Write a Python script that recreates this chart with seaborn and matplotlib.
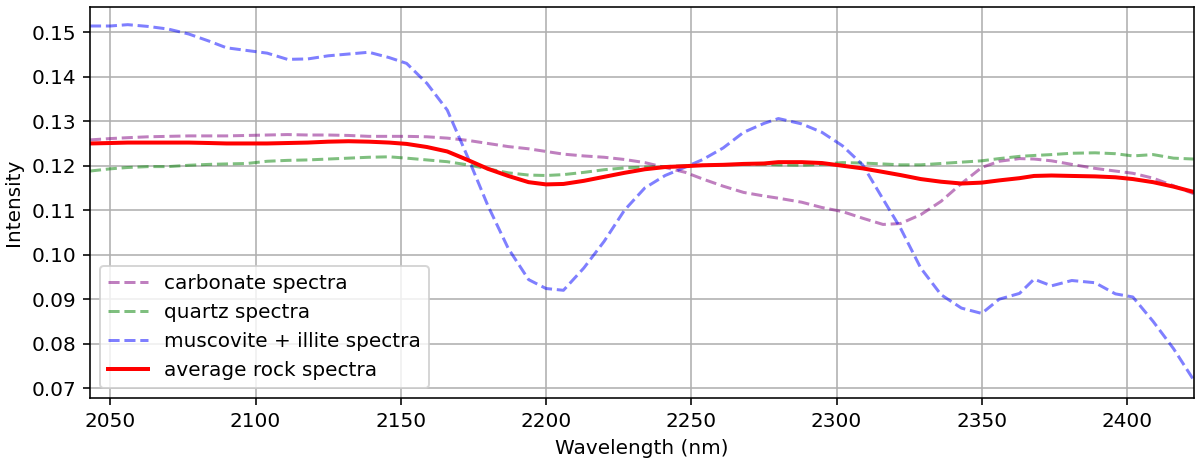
import matplotlib
matplotlib.use("Agg")
import matplotlib.pyplot as plt
import seaborn as sns
import numpy as np

wavelength = [2043, 2050, 2056, 2063, 2070, 2077, 2084, 2090, 2097, 2104, 2111, 2118, 2125, 2132,
              2139, 2146, 2152, 2159, 2166, 2173, 2180, 2187, 2194, 2200, 2206, 2213, 2220, 2227,
              2234, 2241, 2248, 2254, 2261, 2268, 2275, 2280, 2288, 2295, 2302, 2309, 2316, 2322,
              2329, 2336, 2343, 2350, 2356, 2363, 2368, 2374, 2381, 2389, 2396, 2402, 2409, 2416, 2423]

carbonate = [0.1258, 0.1261, 0.1263, 0.1265, 0.1266, 0.1267, 0.1267, 0.1267, 0.1268, 0.1269, 0.1270,
             0.1269, 0.1269, 0.1268, 0.1266, 0.1266, 0.1266, 0.1265, 0.1262, 0.1257, 0.1250, 0.1243,
             0.1238, 0.1232, 0.1226, 0.1222, 0.1219, 0.1214, 0.1207, 0.1196, 0.1185, 0.1170, 0.1154,
             0.1140, 0.1132, 0.1127, 0.1118, 0.1106, 0.1097, 0.1082, 0.1068, 0.1070, 0.1090, 0.1120,
             0.1160, 0.1196, 0.1210, 0.1216, 0.1215, 0.1211, 0.1203, 0.1194, 0.1188, 0.1183, 0.1172,
             0.1155, 0.1137]

quartz = [0.1188, 0.1193, 0.1196, 0.1198, 0.1198, 0.1201, 0.1203, 0.1204, 0.1205, 0.1210, 0.1212,
          0.1213, 0.1215, 0.1217, 0.1219, 0.1220, 0.1217, 0.1213, 0.1209, 0.1202, 0.1193, 0.1184,
          0.1179, 0.1178, 0.1180, 0.1185, 0.1191, 0.1195, 0.1197, 0.1198, 0.1200, 0.1201, 0.1202,
          0.1203, 0.1203, 0.1202, 0.1201, 0.1203, 0.1207, 0.1206, 0.1204, 0.1202, 0.1202, 0.1205,
          0.1208, 0.1211, 0.1216, 0.1221, 0.1223, 0.1225, 0.1228, 0.1229, 0.1227, 0.1222, 0.1225,
          0.1217, 0.1215]

muscovite_illite = [0.1514, 0.1514, 0.1517, 0.1513, 0.1507, 0.1496, 0.1480, 0.1465, 0.1459, 0.1453,
                    0.1439, 0.1440, 0.1447, 0.1451, 0.1455, 0.1443, 0.1430, 0.1385, 0.1325, 0.1220,
                    0.1110, 0.1014, 0.0944, 0.0924, 0.0920, 0.0970, 0.1030, 0.1100, 0.1150, 0.1178,
                    0.1197, 0.1214, 0.1240, 0.1275, 0.1295, 0.1306, 0.1294, 0.1275, 0.1245, 0.1202,
                    0.1125, 0.1060, 0.0970, 0.0910, 0.0880, 0.0868, 0.0900, 0.0913, 0.0945, 0.0930,
                    0.0942, 0.0937, 0.0912, 0.0905, 0.0850, 0.0789, 0.0718]

average_rock = [0.1250, 0.1251, 0.1252, 0.1252, 0.1252, 0.1252, 0.1251, 0.1250, 0.1250, 0.1250, 0.1251,
                0.1252, 0.1254, 0.1255, 0.1254, 0.1252, 0.1249, 0.1242, 0.1232, 0.1213, 0.1193, 0.1177,
                0.1163, 0.1158, 0.1159, 0.1166, 0.1175, 0.1184, 0.1192, 0.1197, 0.1199, 0.1201, 0.1202,
                0.1204, 0.1205, 0.1208, 0.1208, 0.1206, 0.1200, 0.1194, 0.1186, 0.1179, 0.1170, 0.1164,
                0.1160, 0.1162, 0.1167, 0.1172, 0.1177, 0.1178, 0.1177, 0.1176, 0.1174, 0.1170, 0.1163,
                0.1153, 0.1141]

DPI = 144
fig, ax = plt.subplots(figsize=(1195 / DPI, 459 / DPI), dpi=DPI)
fig.subplots_adjust(left=0.0753, right=0.999, top=0.985, bottom=0.133)

sns.lineplot(x=wavelength, y=carbonate, ax=ax, color="purple", alpha=0.5, linestyle="--",
             linewidth=1.5, label="carbonate spectra")
sns.lineplot(x=wavelength, y=quartz, ax=ax, color="green", alpha=0.5, linestyle="--",
             linewidth=1.5, label="quartz spectra")
sns.lineplot(x=wavelength, y=muscovite_illite, ax=ax, color="blue", alpha=0.5, linestyle="--",
             linewidth=1.5, label="muscovite + illite spectra")
sns.lineplot(x=wavelength, y=average_rock, ax=ax, color="red", linewidth=2,
             label="average rock spectra")

ax.set_xlim(wavelength[0], wavelength[-1])
ax.set_xlabel("Wavelength (nm)")
ax.set_ylabel("Intensity")
ax.grid(True)
ax.legend(loc="lower left")

fig.savefig("out.png", dpi=DPI)
